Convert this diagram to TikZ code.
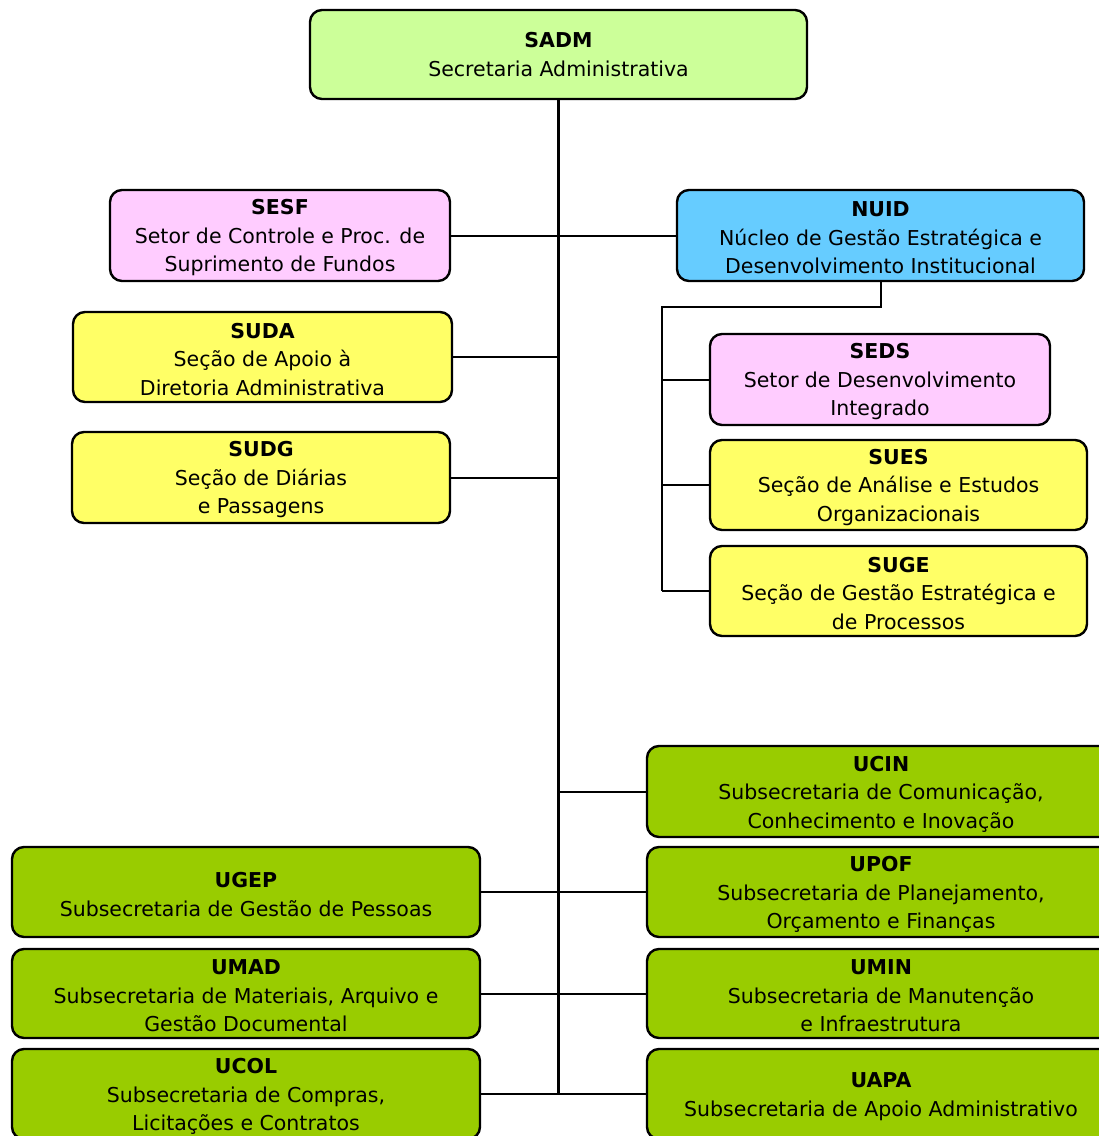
\documentclass[tikz,border=0pt]{standalone}
\usepackage{fontspec}
\setmainfont{DejaVu Sans}
\definecolor{topgreen}{HTML}{CCFF99}
\definecolor{pinkbox}{HTML}{FFCCFF}
\definecolor{bluebox}{HTML}{66CCFF}
\definecolor{yellowbox}{HTML}{FFFF66}
\definecolor{greenbox}{HTML}{99CC00}
\newcommand{\unithead}[1]{\rule{0pt}{20pt}\textbf{#1}}
\begin{document}
\begin{tikzpicture}[x=1pt,y=-1pt,
  unit/.style={draw, line width=2.4pt, rounded corners=12pt, align=center,
    inner sep=0pt, font=\fontsize{20.5}{28.5}\selectfont},
  link/.style={line width=2pt},
  spine/.style={line width=3.6pt}]
\useasboundingbox (0,0) rectangle (1099,1136);
\node (sadm) [unit, fill=topgreen, minimum width=497pt, minimum height=89pt] at (558.5,54.5) {\textbf{SADM}\\Secretaria Administrativa};
\node (sesf) [unit, fill=pinkbox, minimum width=340pt, minimum height=91pt] at (280,235.5) {\unithead{SESF}\\Setor de Controle e Proc. de\\Suprimento de Fundos};
\node (nuid) [unit, fill=bluebox, minimum width=407pt, minimum height=91pt] at (880.5,235.5) {\unithead{NUID}\\Núcleo de Gestão Estratégica e\\Desenvolvimento Institucional};
\node (suda) [unit, fill=yellowbox, minimum width=379pt, minimum height=90pt] at (262.5,357) {\unithead{SUDA}\\Seção de Apoio à\\Diretoria Administrativa};
\node (sudg) [unit, fill=yellowbox, minimum width=378pt, minimum height=91pt] at (261,477.5) {\unithead{SUDG}\\Seção de Diárias\\e Passagens};
\node (seds) [unit, fill=pinkbox, minimum width=340pt, minimum height=91pt] at (880,379.5) {\unithead{SEDS}\\Setor de Desenvolvimento\\Integrado};
\node (sues) [unit, fill=yellowbox, minimum width=377pt, minimum height=90pt] at (898.5,485) {\unithead{SUES}\\Seção de Análise e Estudos\\Organizacionais};
\node (suge) [unit, fill=yellowbox, minimum width=377pt, minimum height=90pt] at (898.5,591) {\unithead{SUGE}\\Seção de Gestão Estratégica e\\de Processos};
\node (ucin) [unit, fill=greenbox, minimum width=468pt, minimum height=91pt] at (881,791.5) {\unithead{UCIN}\\Subsecretaria de Comunicação,\\Conhecimento e Inovação};
\node (upof) [unit, fill=greenbox, minimum width=468pt, minimum height=90pt] at (881,892) {\unithead{UPOF}\\Subsecretaria de Planejamento,\\Orçamento e Finanças};
\node (umin) [unit, fill=greenbox, minimum width=468pt, minimum height=89pt] at (881,993.5) {\unithead{UMIN}\\Subsecretaria de Manutenção\\e Infraestrutura};
\node (uapa) [unit, fill=greenbox, minimum width=468pt, minimum height=90pt] at (881,1094) {\unithead{UAPA}\\Subsecretaria de Apoio Administrativo};
\node (ugep) [unit, fill=greenbox, minimum width=468pt, minimum height=90pt] at (246,892) {\unithead{UGEP}\\Subsecretaria de Gestão de Pessoas};
\node (umad) [unit, fill=greenbox, minimum width=468pt, minimum height=89pt] at (246,993.5) {\unithead{UMAD}\\Subsecretaria de Materiais, Arquivo e\\Gestão Documental};
\node (ucol) [unit, fill=greenbox, minimum width=468pt, minimum height=90pt] at (246,1094) {\unithead{UCOL}\\Subsecretaria de Compras,\\Licitações e Contratos};
% spine and branches
\draw [spine] (sadm.south) -- (uapa.west -| sadm.south);
\foreach \n in {sesf,suda,sudg,ugep,umad,ucol}
  \draw [link] (\n.east) -- (\n.east -| sadm.south);
\foreach \n in {nuid,ucin,upof,umin,uapa}
  \draw [link] (\n.west) -- (\n.west -| sadm.south);
% NUID sub-branch
\coordinate (nb) at (662,307);
\draw [link] (nuid.south) |- (nb) -- (nb |- suge.west);
\foreach \n in {seds,sues,suge}
  \draw [link] (\n.west) -- (\n.west -| nb);
\end{tikzpicture}
\end{document}
